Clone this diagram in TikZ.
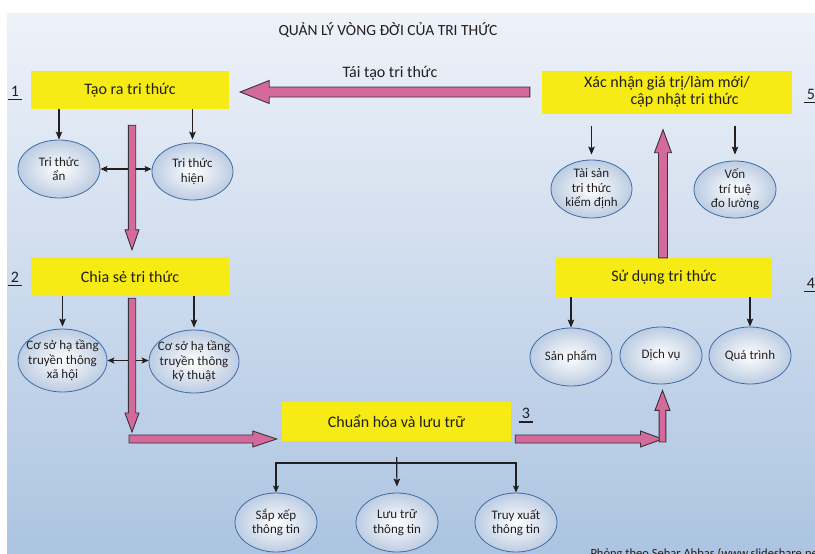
\documentclass[tikz,border=0pt]{standalone}
\usepackage{fontspec}
\setmainfont{Carlito}
\usetikzlibrary{arrows.meta, calc, shapes.geometric}

\definecolor{panetop}{RGB}{238,242,249}
\definecolor{panebottom}{RGB}{172,196,225}
\definecolor{boxyellow}{RGB}{246,235,20}
\definecolor{pinkfill}{RGB}{212,106,155}
\definecolor{pinkedge}{RGB}{55,50,55}
\definecolor{ovalblue}{RGB}{62,108,165}
\definecolor{ovalfill}{RGB}{188,204,226}
\definecolor{ink}{RGB}{35,31,32}

% fat pink arrow: from, to, half shaft, half head, head length
\newcommand\fatarrow[5]{%
  \draw[fat] let \p1=($(#2)-(#1)$), \n1={atan2(\y1,\x1)}, \n2={veclen(\x1,\y1)} in
    [shift={(#1)}, rotate=\n1]
    (0,-#3) -- ({\n2-#5},-#3) -- ({\n2-#5},-#4) -- (\n2,0)
    -- ({\n2-#5},#4) -- ({\n2-#5},#3) -- (0,#3) -- cycle;}

\begin{document}
\begin{tikzpicture}[x=1pt, y=-1pt,
  every node/.style={text=ink, align=center},
  box/.style={fill=boxyellow, inner sep=0pt, font=\fontsize{16}{17}\selectfont},
  oval/.style={ellipse, draw=ovalblue, line width=0.8pt, inner color=white, outer color=ovalfill,
    inner xsep=-12pt, inner ysep=-10pt, minimum width=82pt, minimum height=58pt, font=\fontsize{13}{14.5}\selectfont},
  arrow/.style={-{Stealth[length=8pt,width=6.5pt,inset=1.5pt]}, line width=1.2pt, draw=ink},
  both/.style={{Stealth[length=7pt,width=6pt,inset=1.5pt]}-{Stealth[length=7pt,width=6pt,inset=1.5pt]}, line width=1.1pt, draw=ink},
  fat/.style={draw=pinkedge, fill=pinkfill, line width=0.9pt, line join=miter},
  num/.style={inner xsep=3pt, inner ysep=3pt, font=\fontsize{16}{17}\selectfont},
  underline/.style={line width=1.2pt, draw=ink}
]

\useasboundingbox (0,0) rectangle (815,554);
\shade[top color=panetop, bottom color=panebottom] (7,13) rectangle (815,554);

\node[font=\fontsize{15.5}{17}\selectfont] (title) at (388,30) {QUẢN LÝ VÒNG ĐỜI CỦA TRI THỨC};

% STAGES
\node[box, minimum width=198pt, minimum height=38pt] (create) at (130,90) {Tạo ra tri thức};
\node[box, minimum width=198pt, minimum height=39pt] (share) at (130,276.5) {Chia sẻ tri thức};
\node[box, minimum width=229pt, minimum height=39pt] (store) at (396.5,421.5) {Chuẩn hóa và lưu trữ};
\node[box, minimum width=216pt, minimum height=39pt] (use) at (664,277.5) {Sử dụng tri thức};
\node[box, minimum width=250pt, minimum height=43pt] (renew) at (667,92) {Xác nhận giá trị/làm mới/\\\hspace*{2.2em}cập nhật tri thức};

\node[num] (one) at (15,91.5) {1};
\node[num] (two) at (15,277) {2};
\node[num] (three) at (526,413.5) {3};
\node[num] (four) at (811,283) {4};
\node[num] (five) at (811,94.5) {5};
\foreach \n in {one, two, three, four, five}
  \draw[underline] (\n.south west) -- (\n.south east);

% OUTCOMES
\node[oval] (tacit) at (59,169) {Tri thức\\ẩn};
\node[oval, minimum width=81pt, minimum height=57pt] (explicit) at (192.5,171.5) {Tri thức\\hiện};
\node[oval, minimum width=89pt, minimum height=63pt] (social) at (62.5,360.5) {Cơ sở hạ tầng\\truyền thông\\xã hội};
\node[oval, minimum width=90pt, minimum height=63pt] (technical) at (194,361.5) {Cơ sở hạ tầng\\truyền thông\\kỹ thuật};
\node[oval, minimum height=59pt] (arrange) at (276,522.5) {Sắp xếp\\thông tin};
\node[oval, minimum height=59pt] (keep) at (397,522.5) {Lưu trữ\\thông tin};
\node[oval, minimum height=59pt] (retrieve) at (516,522.5) {Truy xuất\\thông tin};
\node[oval] (product) at (571,357) {Sản phẩm};
\node[oval, minimum height=57pt] (service) at (661,355.5) {Dịch vụ};
\node[oval, minimum height=57pt] (process) at (750,355.5) {Quá trình};
\node[oval, minimum width=81pt] (verified) at (591.5,189) {Tài sản\\tri thức\\kiểm định};
\node[oval, minimum height=57pt] (capital) at (735,189.5) {Vốn\\trí tuệ\\đo lường};

\draw[arrow] (create.south -| tacit) -- (tacit.north);
\draw[arrow, shorten >=3pt] (create.south -| explicit) -- (explicit.north);
\draw[both] (tacit.east) -- (tacit.east -| explicit.west);

\draw[arrow, shorten >=2pt] (share.south -| social) -- (social.north);
\draw[arrow, shorten >=2pt] (share.south -| technical) -- (technical.north);
\draw[both] (social.east) -- (social.east -| technical.west);

\coordinate (branch) at (396,463);
\draw[both] (arrange.north) |- (branch) -| (retrieve.north);
\draw[arrow, shorten <=16pt, shorten >=6pt] (store.south) -- (keep.north);

\draw[arrow] (use.south -| product) -- (product.north);
\draw[arrow] (use.south -| process) -- (process.north);

\draw[arrow, shorten <=12pt, shorten >=5pt] (renew.south -| verified) -- (verified.north);
\draw[arrow, shorten <=12pt, shorten >=6pt] (renew.south -| capital) -- (capital.north);

% PINK FLOW
\coordinate (bendleft) at (132,439);
\coordinate (bendright) at (662.5,439);

\fatarrow{[xshift=2pt,yshift=-16pt]create.south}{[xshift=2pt,yshift=7pt]share.north}{3.7}{7}{20}
\fatarrow{[xshift=2pt,yshift=-2pt]share.south}{[yshift=7pt]bendleft}{3.7}{7}{19}
\fatarrow{[xshift=-3pt]bendleft}{[xshift=-5pt,yshift=-17.5pt]store.west}{4}{8}{24}
\fatarrow{[xshift=4pt,yshift=-17.5pt]store.east}{bendright}{4}{8}{22}
\fatarrow{[yshift=-3pt]bendright}{[xshift=1.5pt,yshift=-6pt]service.south}{3.4}{7.5}{20}
\fatarrow{[xshift=-1pt]use.north}{[xshift=-4pt,yshift=-16pt]renew.south}{4.5}{8.5}{23}

% LOOP BACK
\fatarrow{[xshift=-12pt]renew.west}{[xshift=11pt,yshift=-2pt]create.east}{5}{11.5}{29}
\node[font=\fontsize{16}{17}\selectfont] (again) at (390,73) {Tái tạo tri thức};

\node[anchor=base west, font=\fontsize{12.5}{14}\selectfont] (source) at (587,557) {Phỏng theo Sehar Abbas (www.slideshare.net)};

\end{tikzpicture}
\end{document}
